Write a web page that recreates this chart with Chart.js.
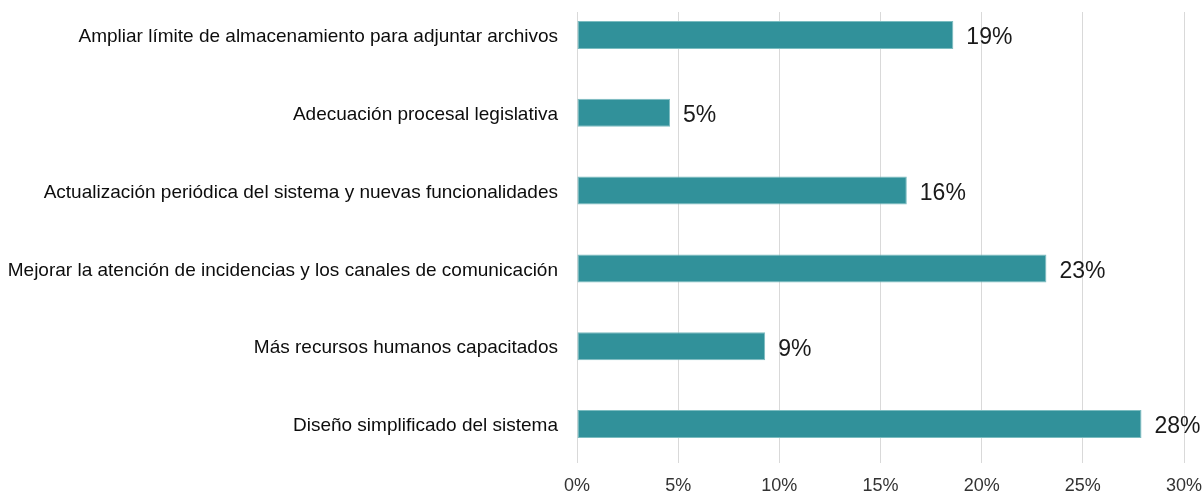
<!DOCTYPE html>
<html>
<head>
<meta charset="utf-8">
<script src="https://cdn.jsdelivr.net/npm/chart.js@4"></script>
<style>
  html, body { margin: 0; padding: 0; background: #fff; overflow: hidden; }
  #wrap { position: absolute; left: 0; top: -4px; width: 1204px; height: 496px; }
</style>
</head>
<body>
<div id="wrap"><canvas id="chart"></canvas></div>
<script>
// Survey chart - suggested improvements (horizontal bars)

const categories = [
  "Ampliar límite de almacenamiento para adjuntar archivos",
  "Adecuación procesal legislativa",
  "Actualización periódica del sistema y nuevas funcionalidades",
  "Mejorar la atención de incidencias y los canales de comunicación",
  "Más recursos humanos capacitados",
  "Diseño simplificado del sistema",
];
const percentValues = [18.6, 4.6, 16.3, 23.2, 9.3, 27.9];
const tickValues = [0, 5, 10, 15, 20, 25, 30];

const FONT = "'Liberation Sans', Arial, sans-serif";

// value labels at the end of each bar
const valueLabels = {
  id: "valueLabels",
  afterDatasetsDraw(chart) {
    const ctx = chart.ctx;
    const meta = chart.getDatasetMeta(0);
    ctx.save();
    ctx.font = "23px " + FONT;
    ctx.fillStyle = "#1a1a1a";
    ctx.textAlign = "left";
    ctx.textBaseline = "middle";
    meta.data.forEach((bar, i) => {
      ctx.fillText(Math.round(percentValues[i]) + "%", bar.x + 13, bar.y + 3);
    });
    ctx.restore();
  },
};

// gridlines start a bit below the top in the original
const trimGrid = {
  id: "trimGrid",
  beforeDatasetsDraw(chart) {
    const { ctx, chartArea } = chart;
    ctx.save();
    ctx.fillStyle = "#fff";
    ctx.fillRect(chartArea.left - 2, chartArea.top, chartArea.right - chartArea.left + 4, 16 - chartArea.top);
    ctx.restore();
  },
};

new Chart(document.getElementById("chart"), {
  type: "bar",
  data: {
    labels: categories,
    datasets: [
      {
        data: percentValues,
        backgroundColor: "#31919a",
        borderColor: "#7cbcc0",
        borderWidth: 1,
        borderSkipped: false,
        barPercentage: 0.36,
        categoryPercentage: 1,
      },
    ],
  },
  options: {
    indexAxis: "y",
    responsive: true,
    maintainAspectRatio: false,
    animation: false,
    layout: { padding: { left: 0, right: 20, top: 0, bottom: 0 } },
    plugins: {
      legend: { display: false },
      tooltip: { enabled: false },
    },
    scales: {
      x: {
        min: 0,
        max: 30,
        afterBuildTicks: (scale) => {
          scale.ticks = tickValues.map((v) => ({ value: v }));
        },
        afterFit: (scale) => {
          scale.height = 29;
          scale.paddingLeft = 0;
          scale.paddingRight = 0;
        },
        grid: { color: "#d9d9d9", lineWidth: 1, drawTicks: false },
        border: { display: false },
        ticks: {
          padding: 12,
          color: "#333",
          font: { family: FONT, size: 18 },
          callback: (v) => v + "%",
        },
      },
      y: {
        afterFit: (scale) => {
          scale.width = 577;
          scale.paddingTop = 0;
          scale.paddingBottom = 0;
        },
        grid: { display: false, drawTicks: false },
        border: { display: false },
        ticks: {
          padding: 19,
          labelOffset: 2,
          color: "#0d0d0d",
          font: { family: FONT, size: 19 },
        },
      },
    },
  },
  plugins: [valueLabels, trimGrid],
});
</script>
</body>
</html>
